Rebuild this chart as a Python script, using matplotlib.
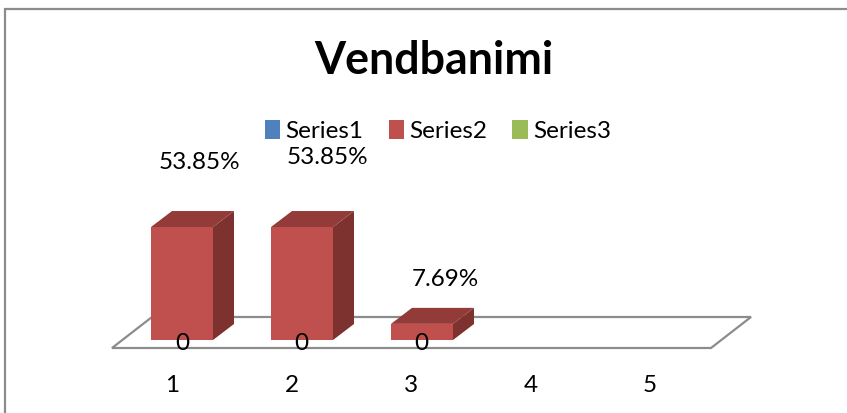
import matplotlib
matplotlib.use("Agg")
import matplotlib.pyplot as plt
from matplotlib.patches import Patch, Polygon, Rectangle

categories = [1, 2, 3, 4, 5]
series1 = [0, 0, 0]
series2 = [53.85, 53.85, 7.69]
series3 = []
series_names = ["Series1", "Series2", "Series3"]
title = "Vendbanimi"
value_labels = ["53.85%", "53.85%", "7.69%"]

W, H = 847, 413
plt.rcParams["font.family"] = ["Lato", "DejaVu Sans"]
fig = plt.figure(figsize=(W / 100, H / 100), dpi=100)
ax = fig.add_axes([0, 0, 1, 1])

# scale: category 1 centre at px 182, 120 px per category; value 0 at px 340, 2.098 px per unit
PX_X, PX_Y = 120.0, 2.098
ax.set_xlim(1 - 182 / PX_X, 1 + (W - 182) / PX_X)
ax.set_ylim((340 - H) / PX_Y, 340 / PX_Y)
ax.axis("off")

dx, dy = 21 / PX_X, 16 / PX_Y        # 3-D depth
bw = 62 / PX_X                       # bar width
front, side, top = "#C0504D", "#7D3230", "#923B38"
grey = "#8C8C8C"

# outer frame
ax.add_patch(Rectangle((0.0059, -0.2), 1.2, 1.178, transform=ax.transAxes,
                       fill=False, ec=grey, lw=1.6, clip_on=True))

# floor
fx0, fx1 = categories[0] - 70 / PX_X, categories[-1] + 49 / PX_X
fy0, fy1 = -8 / PX_Y, 23 / PX_Y
skew = 40 / PX_X
ax.add_patch(Polygon([(fx0, fy0), (fx1, fy0), (fx1 + skew, fy1), (fx0 + skew, fy1)],
                     closed=True, fill=False, ec=grey, lw=1.6, zorder=1))

# bars
for c, v in zip(categories, series2):
    l, r = c - bw / 2, c + bw / 2
    ax.bar(c, v, width=bw, color=front, zorder=3)
    ax.add_patch(Polygon([(r, 0), (r + dx, dy), (r + dx, v + dy), (r, v)], fc=side, ec="none", zorder=3))
    ax.add_patch(Polygon([(l, v), (r, v), (r + dx, v + dy), (l + dx, v + dy)], fc=top, ec="none", zorder=3))

# value labels
fs = 17.5
offsets = [(17, 65), (25, 70), (23, 44)]
for c, v, t, (ox, oy) in zip(categories, series2, value_labels, offsets):
    ax.text(c + ox / PX_X, v + oy / PX_Y, t, ha="center", va="center",
            fontsize=fs, color="black", zorder=5)
for c, v in zip(categories, series1):
    ax.text(c - (0.5 * (c - 1)) / PX_X, v - 4 / PX_Y, str(v), ha="center", va="center",
            fontsize=fs, color="black", zorder=5)

# category labels
for c in categories:
    ax.text(c - (10 + 0.5 * (c - 1)) / PX_X, -45 / PX_Y, str(c), ha="center", va="center",
            fontsize=fs, color="black")

# title
ax.text(434 / W, 1 - 61 / H, title, transform=ax.transAxes, ha="center", va="center",
        fontsize=32.2, fontweight="bold", color="black")

# legend
handles = [Patch(fc=col, ec="none") for col in ("#4F81BD", "#C0504D", "#9BBB59")]
ax.legend(handles, series_names, loc="center", bbox_to_anchor=(438 / W, 1 - 131 / H),
          ncol=3, frameon=False, fontsize=fs, handlelength=0.62, handleheight=0.85,
          handletextpad=0.24, columnspacing=1.03, borderpad=0)

fig.savefig("out.png", dpi=100)
